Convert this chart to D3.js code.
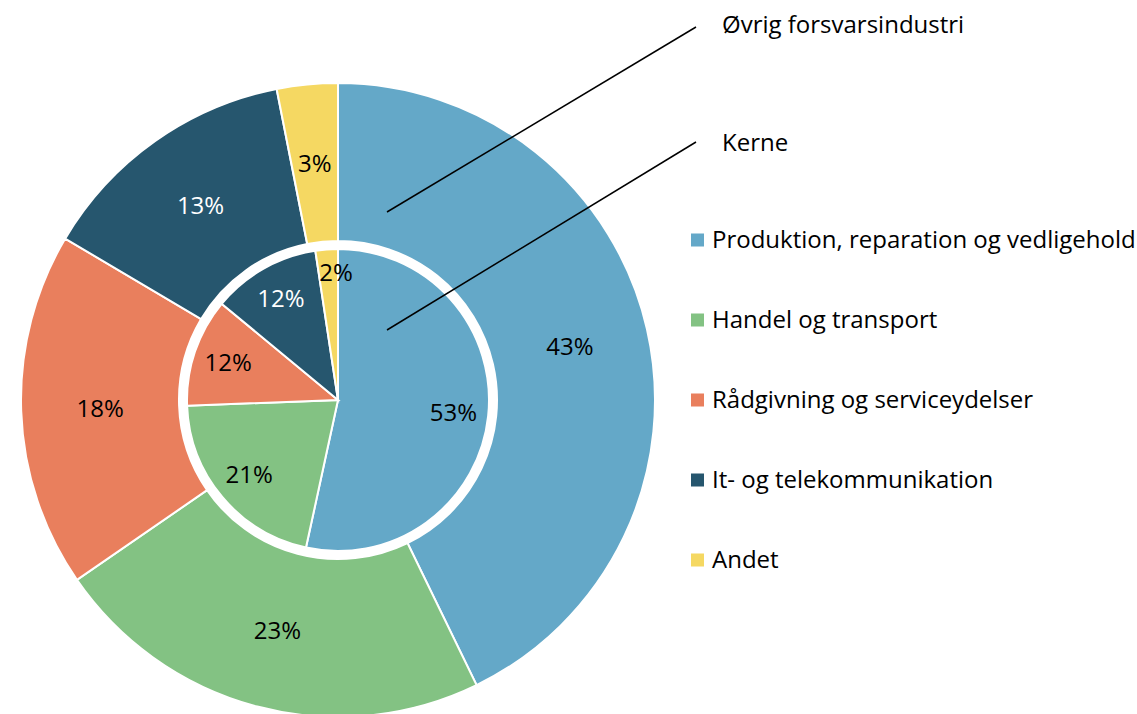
<!DOCTYPE html>
<html>
<head>
<meta charset="utf-8">
<script src="https://cdn.jsdelivr.net/npm/d3@7"></script>
<style>
  body { margin: 0; background: #fff; }
  text { font-family: "Open Sans", sans-serif; }
</style>
</head>
<body>
<div id="chart"></div>
<script>
const width = 1137, height = 714;

// categories and shares (%)
const categories = ["Produktion, reparation og vedligehold", "Handel og transport", "Rådgivning og serviceydelser", "It- og telekommunikation", "Andet"];
const outerValues = [42.8, 22.6, 18.1, 13.4, 3.1];   // Øvrig forsvarsindustri
const innerValues = [53.4, 21.0, 11.6, 11.6, 2.4];   // Kerne
const colors = ["#64a8c8", "#83c283", "#e97f5d", "#26566e", "#f5d862"];
const labelColors = ["#000", "#000", "#000", "#fff", "#000"];

const svg = d3.select("#chart")
  .append("svg")
    .attr("width", width)
    .attr("height", height);

const cx = 338, cy = 400;
const g = svg.append("g").attr("transform", `translate(${cx},${cy})`);

const pie = d3.pie().sort(null).value(d => d);

const color = d3.scaleOrdinal().domain(d3.range(categories.length)).range(colors);

// outer ring
const outerArc = d3.arc().innerRadius(159).outerRadius(317);
const outerData = pie(outerValues);
g.append("g").selectAll("path")
  .data(outerData)
  .join("path")
    .attr("d", outerArc)
    .attr("fill", (d, i) => color(i))
    .attr("stroke", "#fff")
    .attr("stroke-width", 2);

g.append("g").selectAll("text")
  .data(outerData)
  .join("text")
    .attr("transform", d => `translate(${outerArc.centroid(d)})`)
    .attr("text-anchor", "middle")
    .attr("dy", "0.35em")
    .style("font-size", "24px")
    .style("fill", (d, i) => labelColors[i])
    .text(d => Math.round(d.data) + "%");

// inner pie
const innerArc = d3.arc().innerRadius(0).outerRadius(151);
const innerLabelArc = d3.arc().innerRadius(116).outerRadius(116);
const innerData = pie(innerValues);
g.append("g").selectAll("path")
  .data(innerData)
  .join("path")
    .attr("d", innerArc)
    .attr("fill", (d, i) => color(i))
    .attr("stroke", "#fff")
    .attr("stroke-width", 2);

g.append("g").selectAll("text")
  .data(innerData)
  .join("text")
    .attr("transform", (d, i) => {
      // the thin "Andet" slice gets its label pushed out a bit, nearly on the 12 o'clock line
      const c = i === 4 ? [-2, -127] : innerLabelArc.centroid(d);
      return `translate(${c})`;
    })
    .attr("text-anchor", "middle")
    .attr("dy", "0.35em")
    .style("font-size", "24px")
    .style("fill", (d, i) => labelColors[i])
    .text(d => Math.round(d.data) + "%");

// annotation lines
const notes = [
  {label: "Øvrig forsvarsindustri", from: [387, 212], to: [696, 27], dy: -2},
  {label: "Kerne", from: [387, 330], to: [696, 142], dy: 1}
];
notes.forEach(n => {
  svg.append("line")
    .attr("x1", n.from[0]).attr("y1", n.from[1])
    .attr("x2", n.to[0]).attr("y2", n.to[1])
    .attr("stroke", "#000")
    .attr("stroke-width", 1.5);
  svg.append("text")
    .attr("x", 722)
    .attr("y", n.to[1] + n.dy)
    .attr("dy", "0.35em")
    .style("font-size", "24px")
    .text(n.label);
});

// legend
const legend = svg.append("g")
  .attr("transform", "translate(691, 240)");

const legendItems = legend.selectAll(".legend-item")
  .data(categories)
  .join("g")
    .attr("class", "legend-item")
    .attr("transform", (d, i) => `translate(0, ${i * 80})`);

legendItems.append("rect")
  .attr("y", -6.5)
  .attr("width", 13)
  .attr("height", 13)
  .style("fill", (d, i) => color(i));

legendItems.append("text")
  .attr("x", 21)
  .attr("dy", "0.35em")
  .style("font-size", "24px")
  .style("fill", "#000")
  .text(d => d);
</script>
</body>
</html>
